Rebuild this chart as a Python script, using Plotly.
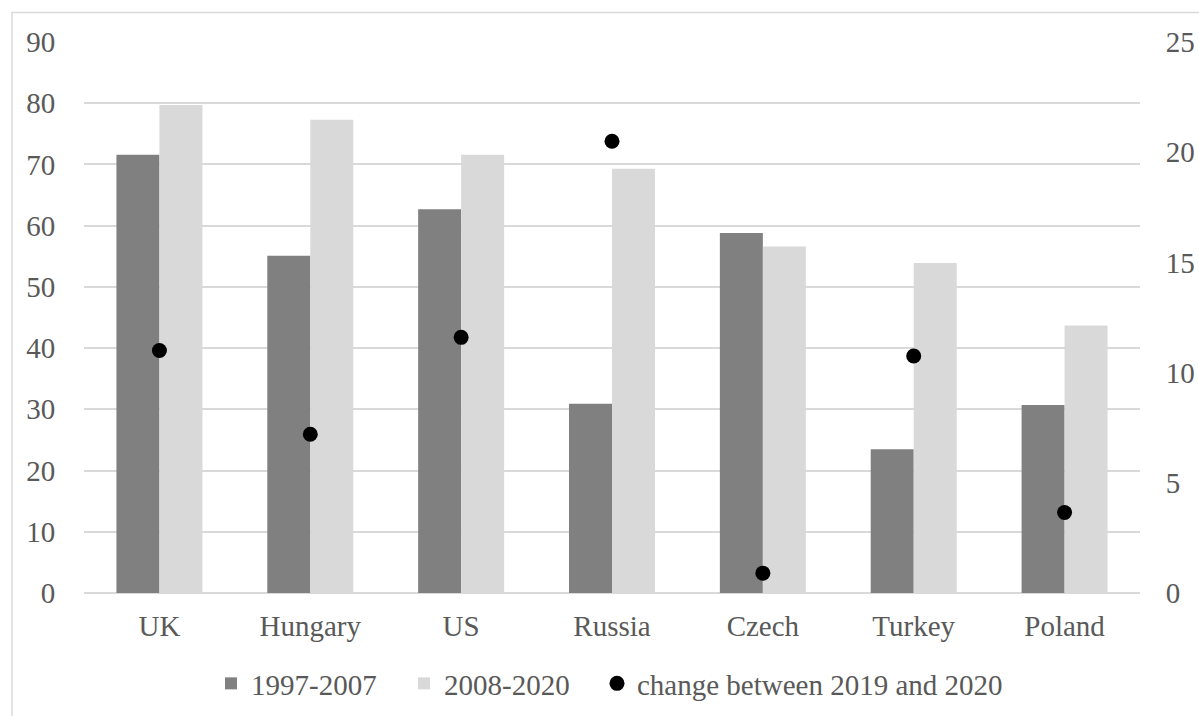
import plotly.graph_objects as go

# Country categories and series values
countries = ["UK", "Hungary", "US", "Russia", "Czech", "Turkey", "Poland"]
period_1997_2007 = [71.6, 55.1, 62.7, 30.9, 58.8, 23.5, 30.7]
period_2008_2020 = [79.7, 77.3, 71.6, 69.3, 56.6, 53.9, 43.7]
change_2019_2020 = [11.0, 7.2, 11.6, 20.5, 0.9, 10.75, 3.65]

left_ticks = list(range(0, 91, 10))
right_ticks = list(range(0, 26, 5))

TEXT = "#595959"
GRID = "#d9d9d9"
FONT = "Liberation Serif, Times New Roman, serif"
FS = 29

W, H = 1199, 716
ML, MR, MT, MB = 84, 59, 42, 123
PW, PH = W - ML - MR, H - MT - MB

def px_to_paper_x(px):
    return (px - ML) / PW

def px_to_paper_y(py):
    return (H - MB - py) / PH

fig = go.Figure()
fig.add_trace(go.Bar(
    x=countries, y=period_1997_2007, name="1997-2007",
    marker=dict(color="#808080", line=dict(width=0)),
))
fig.add_trace(go.Bar(
    x=countries, y=period_2008_2020, name="2008-2020",
    marker=dict(color="#d9d9d9", line=dict(width=0)),
))
fig.add_trace(go.Scatter(
    x=countries, y=change_2019_2020, name="change between 2019 and 2020",
    mode="markers", yaxis="y2", legend="legend2",
    marker=dict(color="black", size=15, symbol="circle"),
))

# Outer chart frame
fig.add_shape(
    type="rect", xref="paper", yref="paper",
    x0=px_to_paper_x(12), x1=px_to_paper_x(W + 20),
    y0=px_to_paper_y(H + 20), y1=px_to_paper_y(12.5),
    line=dict(color=GRID, width=1.5), fillcolor="rgba(0,0,0,0)", layer="below",
)

legend_font = dict(family=FONT, size=FS, color=TEXT)
tick_font = dict(family=FONT, size=FS, color=TEXT)

fig.update_layout(
    width=W, height=H,
    margin=dict(l=ML, r=MR, t=MT, b=MB, pad=0, autoexpand=False),
    paper_bgcolor="white", plot_bgcolor="white",
    font=dict(family=FONT, size=FS, color=TEXT),
    barmode="group", bargap=0.43, bargroupgap=0,
    showlegend=True,
    legend=dict(
        orientation="h", x=px_to_paper_x(211), xanchor="left",
        y=px_to_paper_y(658), yanchor="top",
        font=legend_font, itemwidth=30, entrywidth=148,
        traceorder="normal", bgcolor="rgba(0,0,0,0)",
    ),
    legend2=dict(
        orientation="h", x=px_to_paper_x(597), xanchor="left",
        y=px_to_paper_y(658), yanchor="top",
        font=legend_font, itemwidth=30,
        bgcolor="rgba(0,0,0,0)",
    ),
    xaxis=dict(
        type="category", showgrid=False, showline=False, zeroline=False,
        ticks="outside", ticklen=7, tickcolor="rgba(0,0,0,0)",
        tickfont=tick_font, automargin=False,
    ),
    yaxis=dict(
        range=[0, 90], tickvals=left_ticks, showgrid=True, gridcolor=GRID,
        gridwidth=1.5, zeroline=True, zerolinecolor=GRID, zerolinewidth=1.5,
        showline=False, ticks="outside", ticklen=22, tickcolor="rgba(0,0,0,0)",
        tickfont=tick_font, automargin=False,
    ),
    yaxis2=dict(
        range=[0, 25], tickvals=right_ticks, overlaying="y", side="right",
        showgrid=False, zeroline=False, showline=False,
        ticks="outside", ticklen=19, tickcolor="rgba(0,0,0,0)",
        tickfont=tick_font, automargin=False,
    ),
)

fig.write_html("out.html")
